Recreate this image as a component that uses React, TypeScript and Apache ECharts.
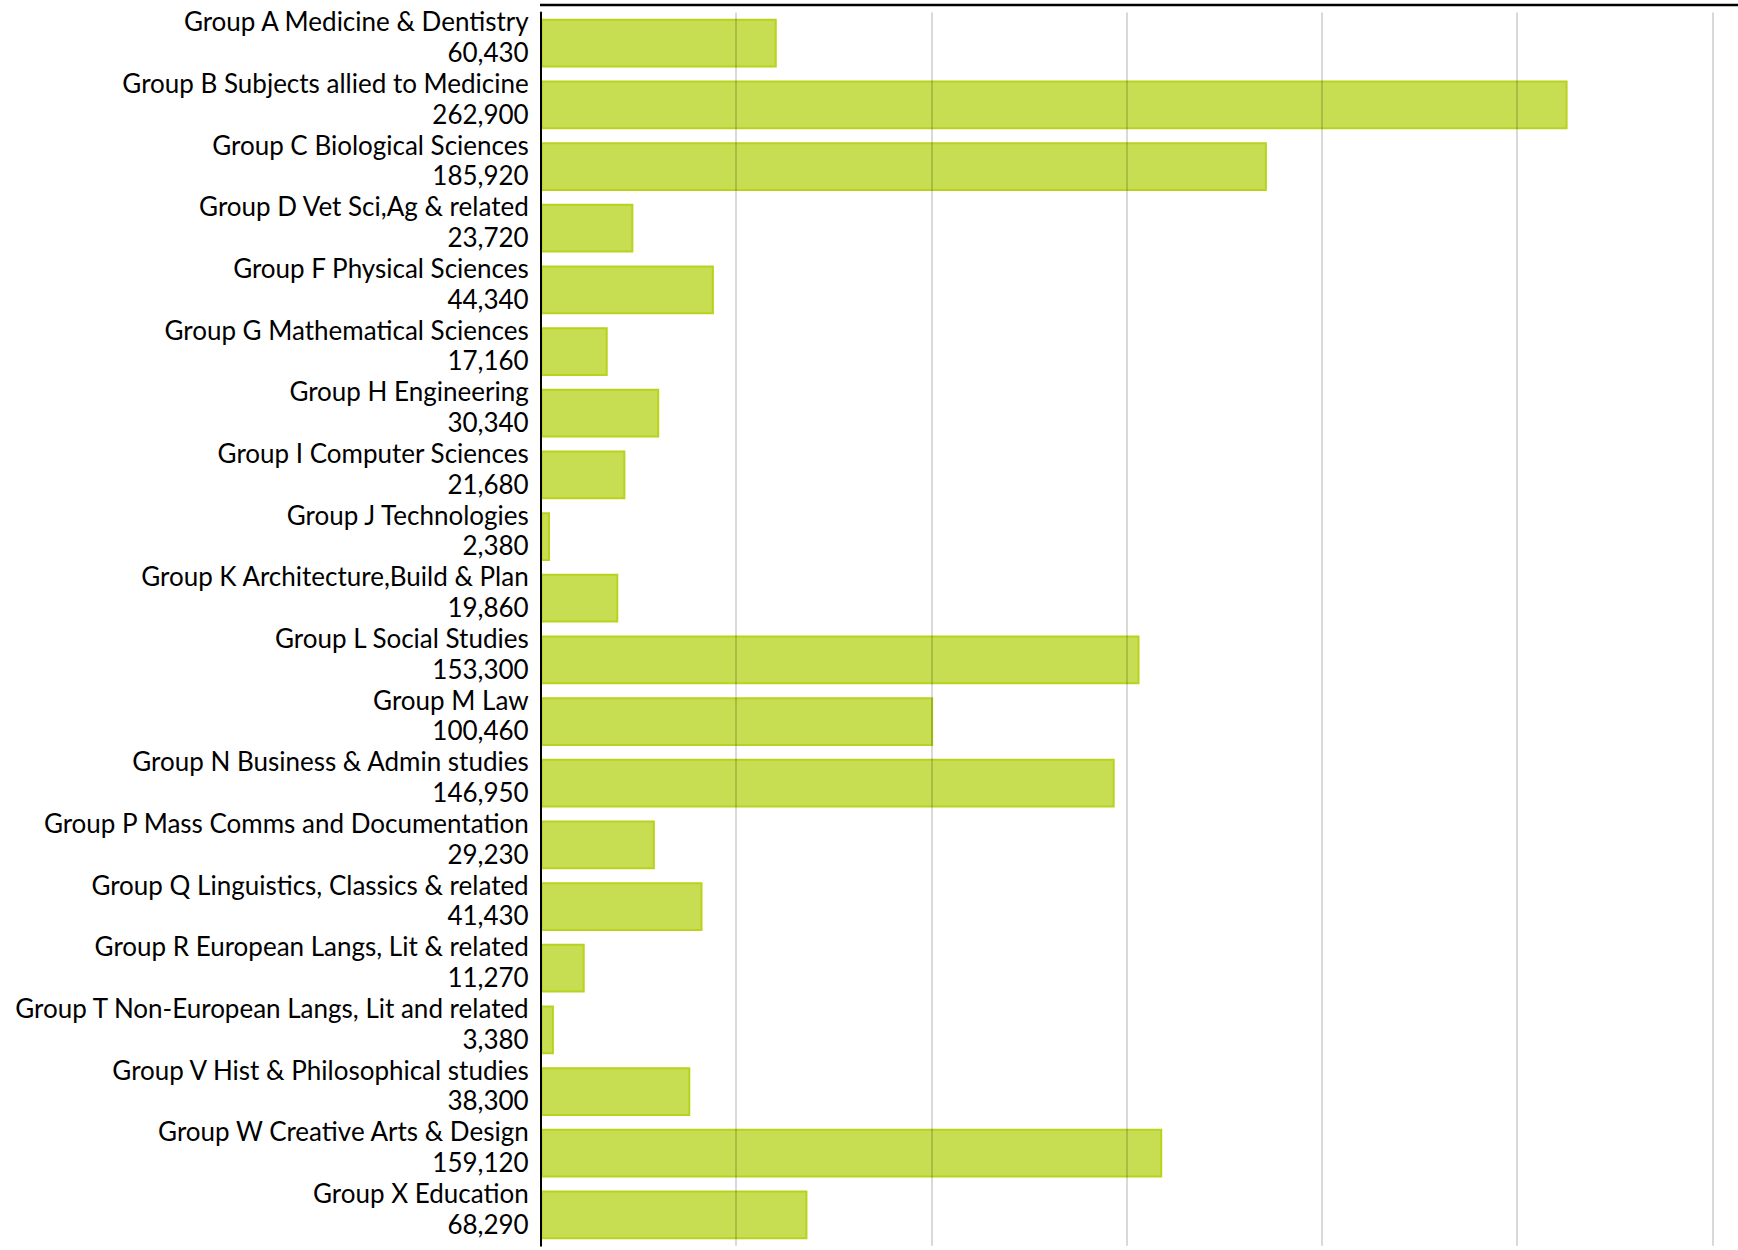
import React, { useEffect, useRef } from "react";
import * as echarts from "echarts";

const categories = [
  "Group A Medicine & Dentistry",
  "Group B Subjects allied to Medicine",
  "Group C Biological Sciences",
  "Group D Vet Sci,Ag & related",
  "Group F Physical Sciences",
  "Group G Mathematical Sciences",
  "Group H Engineering",
  "Group I Computer Sciences",
  "Group J Technologies",
  "Group K Architecture,Build & Plan",
  "Group L Social Studies",
  "Group M Law",
  "Group N Business & Admin studies",
  "Group P Mass Comms and Documentation",
  "Group Q Linguistics, Classics & related",
  "Group R European Langs, Lit & related",
  "Group T Non-European Langs, Lit and related",
  "Group V Hist & Philosophical studies",
  "Group W Creative Arts & Design",
  "Group X Education",
];

const values = [
  60430, 262900, 185920, 23720, 44340, 17160, 30340, 21680, 2380, 19860,
  153300, 100460, 146950, 29230, 41430, 11270, 3380, 38300, 159120, 68290,
];

const xMin = 0;
const xMax = 300000;
const xInterval = 50000;

const fmt = (v: number) => v.toLocaleString("en-US");

export default function App() {
  const ref = useRef<HTMLDivElement>(null);
  useEffect(() => {
    if (!ref.current) return;
    const chart = echarts.init(ref.current, undefined, { renderer: "svg" });
    chart.setOption({
      animation: false,
      backgroundColor: "#ffffff",
      grid: {
        left: 540.7,
        right: 25.5,
        top: 12.4,
        bottom: 4.3,
        containLabel: false,
        outerBoundsMode: "none",
      },
      xAxis: {
        type: "value",
        min: xMin,
        max: xMax,
        interval: xInterval,
        z: 3,
        axisLine: { show: false },
        axisTick: { show: false },
        axisLabel: { show: false },
        splitLine: { show: true, lineStyle: { color: "rgba(0,0,0,0.15)", width: 2 } },
      },
      yAxis: {
        type: "category",
        inverse: true,
        data: categories,
        z: 4,
        axisLine: { show: true, lineStyle: { color: "#000", width: 2 } },
        axisTick: { show: false },
        axisLabel: {
          interval: 0,
          showMinLabel: true,
          showMaxLabel: true,
          hideOverlap: false,
          margin: 12,
          fontFamily: "Lato",
          fontSize: 26,
          color: "#000",
          align: "right",
          formatter: (v: string, i: number) => `{a|${v}}\n{a|${fmt(values[i])}}\n{c| }`,
          rich: {
            a: { fontFamily: "Lato", fontSize: 26, color: "#000", lineHeight: 30.8, align: "right" },
            c: { fontSize: 1, lineHeight: 13, align: "right" },
          },
        },
      },
      series: [
        {
          type: "bar",
          data: values,
          barCategoryGap: "21%",
          itemStyle: { color: "#C7DD52", borderColor: "#BAD21E", borderWidth: 2 },
        },
      ],
      graphic: [
        {
          type: "line",
          z: 10,
          shape: { x1: 540, y1: 5, x2: 1738, y2: 5 },
          style: { stroke: "#000", lineWidth: 2.5 },
        },
      ],
    });
    return () => chart.dispose();
  }, []);
  return (
    <div
      ref={ref}
      style={{ position: "absolute", left: 0, top: 0, width: 1738, height: 1250 }}
    />
  );
}
